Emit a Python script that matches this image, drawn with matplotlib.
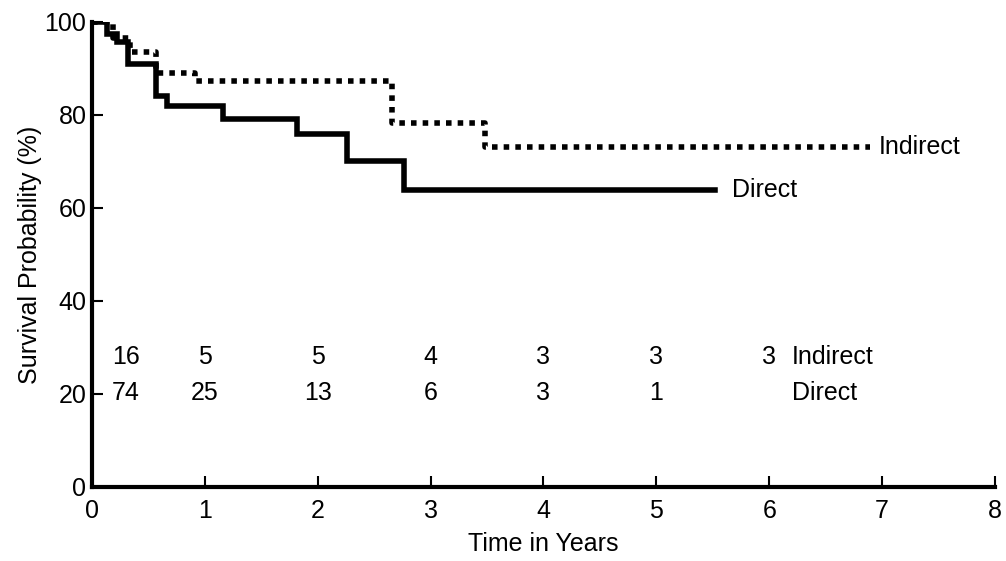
import matplotlib.pyplot as plt

plt.rc('font', family='Liberation Sans')

# Kaplan-Meier step data
direct_t = [0, 0.13, 0.22, 0.32, 0.57, 0.66, 1.16, 1.82, 2.26, 2.76, 5.52]
direct_s = [100, 97.4, 95.7, 91.0, 84.0, 82.0, 79.2, 75.8, 70.0, 63.8, 63.8]
indirect_t = [0, 0.19, 0.34, 0.57, 0.91, 2.66, 3.48, 6.89]
indirect_s = [100, 96.5, 93.6, 89.0, 87.2, 78.2, 73.0, 73.0]

# numbers at risk
risk_x = [0.3, 1, 2, 3, 4, 5, 6]
risk_indirect = ['16', '5', '5', '4', '3', '3', '3']
risk_direct = ['74', '25', '13', '6', '3', '1']

fig = plt.figure(figsize=(10.06, 5.61), dpi=100)
ax = fig.add_axes([0.0915, 0.132, 0.8975, 0.829])

ax.plot(direct_t, direct_s, drawstyle='steps-post', color='black', linewidth=4,
        solid_joinstyle='miter')
ax.plot(indirect_t, indirect_s, drawstyle='steps-post', color='black', linewidth=4,
        linestyle=(0, (1, 1.1)))

fs = 18
ax.text(direct_t[-1] + 0.15, direct_s[-1], 'Direct', fontsize=fs, va='center')
ax.text(indirect_t[-1] + 0.08, indirect_s[-1], 'Indirect', fontsize=fs, va='center')

for x, n in zip(risk_x, risk_indirect):
    ax.text(x, 28, n, fontsize=fs, ha='center', va='center')
for x, n in zip(risk_x, risk_direct):
    ax.text(x, 20.3, n, fontsize=fs, ha='center', va='center')
ax.text(6.2, 28, 'Indirect', fontsize=fs, va='center')
ax.text(6.2, 20.3, 'Direct', fontsize=fs, va='center')

ax.set_xlim(0, 8)
ax.set_ylim(0, 100)
ax.set_xticks(range(0, 9))
ax.set_yticks([0, 20, 40, 60, 80, 100])
ax.tick_params(direction='in', length=8, width=1.5, labelsize=fs)
ax.tick_params(axis='x', pad=9)
ax.tick_params(axis='y', pad=4)
for s in ['top', 'right']:
    ax.spines[s].set_visible(False)
for s in ['left', 'bottom']:
    ax.spines[s].set_linewidth(3)

ax.set_xlabel('Time in Years', fontsize=fs, labelpad=6)
ax.set_ylabel('Survival Probability (%)', fontsize=fs, labelpad=2)

fig.savefig('out.png', dpi=100)
